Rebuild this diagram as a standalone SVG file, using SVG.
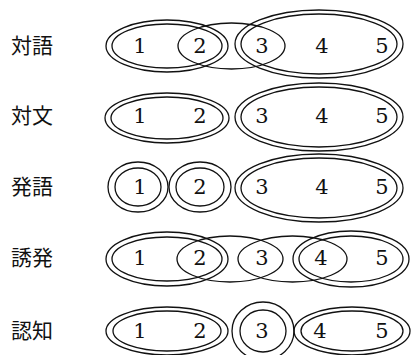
<svg xmlns="http://www.w3.org/2000/svg" width="415" height="355" viewBox="0 0 415 355">
<style>
.e{fill:none;stroke:#111;stroke-width:1.3}
.lbl{font-family:"Noto Sans CJK JP","Noto Sans CJK SC",sans-serif;font-size:21px;fill:#111}
.n{font-family:"DejaVu Serif",serif;font-size:21px;fill:#111;text-anchor:middle}
</style>
<rect width="415" height="355" fill="#fff"/>
<g id="row1">
<text class="lbl" x="11" y="53">対語</text>
<ellipse class="e" cx="167" cy="46" rx="61" ry="26"/>
<ellipse class="e" cx="167" cy="46" rx="55" ry="22"/>
<ellipse class="e" cx="231.5" cy="46" rx="53.5" ry="23"/>
<ellipse class="e" cx="319" cy="44" rx="84" ry="34"/>
<ellipse class="e" cx="319" cy="44" rx="78" ry="30"/>
<text class="n" x="140" y="53">1</text><text class="n" x="200" y="53">2</text><text class="n" x="262" y="53">3</text><text class="n" x="322" y="53">4</text><text class="n" x="382" y="53">5</text>
</g>
<g id="row2">
<text class="lbl" x="11" y="123">対文</text>
<ellipse class="e" cx="167" cy="118" rx="62" ry="25"/>
<ellipse class="e" cx="167" cy="118" rx="56" ry="21"/>
<ellipse class="e" cx="319" cy="117" rx="84" ry="34"/>
<ellipse class="e" cx="319" cy="117" rx="78" ry="30"/>
<text class="n" x="140" y="123">1</text><text class="n" x="200" y="123">2</text><text class="n" x="262" y="123">3</text><text class="n" x="322" y="123">4</text><text class="n" x="382" y="123">5</text>
</g>
<g id="row3">
<text class="lbl" x="11" y="194">発語</text>
<ellipse class="e" cx="138" cy="187" rx="30" ry="25"/>
<ellipse class="e" cx="138" cy="187" rx="23" ry="19"/>
<ellipse class="e" cx="200" cy="187" rx="31" ry="25"/>
<ellipse class="e" cx="200" cy="187" rx="24" ry="19"/>
<ellipse class="e" cx="319" cy="188" rx="84" ry="34"/>
<ellipse class="e" cx="319" cy="188" rx="78" ry="30"/>
<text class="n" x="140" y="194">1</text><text class="n" x="200" y="194">2</text><text class="n" x="262" y="194">3</text><text class="n" x="322" y="194">4</text><text class="n" x="382" y="194">5</text>
</g>
<g id="row4">
<text class="lbl" x="11" y="265">誘発</text>
<ellipse class="e" cx="167" cy="259" rx="61" ry="27"/>
<ellipse class="e" cx="167" cy="259" rx="55" ry="22"/>
<ellipse class="e" cx="230" cy="259" rx="53" ry="23"/>
<ellipse class="e" cx="292.5" cy="259" rx="54.5" ry="23"/>
<ellipse class="e" cx="351" cy="259" rx="58" ry="28"/>
<ellipse class="e" cx="351" cy="259" rx="52" ry="23"/>
<text class="n" x="140" y="265">1</text><text class="n" x="200" y="265">2</text><text class="n" x="262" y="265">3</text><text class="n" x="321" y="265">4</text><text class="n" x="382" y="265">5</text>
</g>
<g id="row5">
<text class="lbl" x="11" y="338">認知</text>
<ellipse class="e" cx="167" cy="331" rx="61" ry="24"/>
<ellipse class="e" cx="167" cy="331" rx="54" ry="20"/>
<ellipse class="e" cx="263" cy="331" rx="31" ry="29"/>
<ellipse class="e" cx="263" cy="331" rx="23" ry="21"/>
<ellipse class="e" cx="352" cy="331" rx="58" ry="24"/>
<ellipse class="e" cx="352" cy="331" rx="51" ry="20"/>
<text class="n" x="140" y="338">1</text><text class="n" x="200" y="338">2</text><text class="n" x="262" y="338">3</text><text class="n" x="320" y="338">4</text><text class="n" x="382" y="338">5</text>
</g>
<g id="connectors"/>
</svg>
